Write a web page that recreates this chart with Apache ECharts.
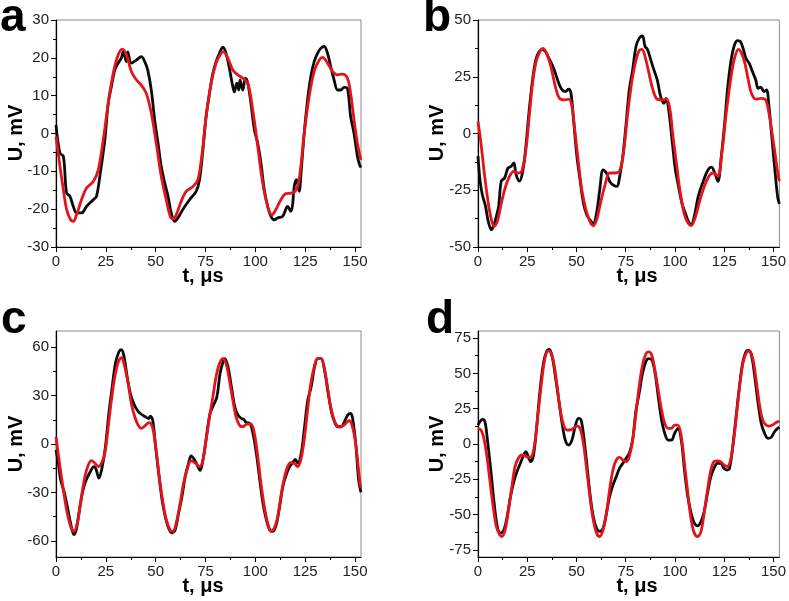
<!DOCTYPE html>
<html>
<head>
<meta charset="utf-8">
<script src="https://cdn.jsdelivr.net/npm/echarts@6/dist/echarts.min.js"></script>
<style>html,body{margin:0;padding:0;background:#fff}#c{width:789px;height:601px}</style>
</head>
<body>
<div id="c"></div>
<script>
// ---- data: [t (µs), U (mV)] ----
const aBlack = [[0,2.3],[2,-5.2],[3.7,-6],[5.3,-15.7],[7,-16.6],[8.7,-19.3],[10.3,-21],[12.8,-21],[15.3,-19.3],[18.7,-17.5],[20.3,-16.6],[22,-11.3],[24.5,-1.7],[26.2,8],[27.8,12.4],[29.5,16.8],[31.2,18.6],[32.8,20],[33.7,21.6],[35.3,19],[36,21.6],[37.8,18.6],[40.3,19.4],[42.8,20.3],[44.5,19],[46,16.8],[47.8,11.5],[49.5,3.6],[51.2,-2.6],[52.8,-8.7],[54.5,-13],[56.2,-16.6],[57.8,-21],[59.5,-23.2],[61.2,-22.3],[63.7,-20],[67,-17.5],[70.3,-15.3],[72,-12.2],[73.7,-4.3],[75.3,4.5],[77,10.6],[78.7,15.9],[80.3,19],[82,21.2],[83.7,22.8],[85.3,21.2],[87,17.2],[88.7,12.4],[89.5,11],[90.7,13.3],[91.7,11.5],[92.3,14.2],[93.7,11.5],[95,14.6],[96.2,13.3],[97.8,8],[99.5,1],[101.2,-2.6],[102.8,-7.8],[104.5,-14.9],[106.2,-19.3],[107.8,-21.9],[109.5,-22.8],[111.2,-22.3],[113.7,-21.9],[116.2,-19.3],[117.8,-20.6],[118.7,-18.8],[119.5,-14],[120.7,-12.2],[122,-15.3],[122.8,-11.3],[124.5,0],[126.2,8.9],[127.8,15],[129.5,19],[131.2,21.2],[132.8,22.5],[134.5,23],[136.2,21.2],[137.8,17.7],[139.5,14.2],[141.2,11.5],[142.8,11.5],[144.5,12.2],[146.2,11.9],[147.8,4.5],[149.5,0],[151.2,-6],[152.3,-8.3],[153,-9]];
const aRed = [[0,-0.8],[2,-8.7],[3.7,-14.9],[5.3,-20],[7.3,-22.8],[8.7,-23.2],[10.3,-21.5],[12.8,-17.5],[15.3,-14.4],[18.7,-12.7],[21.2,-9.6],[23.7,-1.7],[26.2,8],[28.7,15.9],[31.2,20.8],[33.3,22.3],[35.3,20.8],[37.8,16.4],[40.3,14.2],[42.8,12.8],[45.3,10.6],[47.8,5.4],[50.3,-2.6],[52.8,-11.3],[55.3,-17.5],[57.3,-21.9],[58.7,-22.6],[60.3,-21.5],[62.8,-17.9],[65.3,-15.3],[68.7,-14],[71.2,-12.2],[73.3,-5.2],[75.3,4.5],[77.8,13.3],[80.3,18.6],[82.8,21.2],[84,21.6],[86.2,19.9],[88.7,16.8],[91.2,15.5],[93.7,14.6],[96.2,13.3],[98.7,6.2],[101.2,-3.4],[103.7,-13.1],[106.2,-19.3],[108.3,-21.5],[110.3,-20.1],[112.8,-17.5],[115.3,-15.9],[118.7,-15.7],[121.2,-14],[122.8,-8.7],[124.5,0],[127,9.8],[129.5,16.4],[132,19.4],[133.7,20.1],[136.2,18.6],[138.7,16.4],[141.2,15.5],[143.7,15.7],[146.2,14.6],[147.8,10.6],[149.5,3.6],[151.2,-2.6],[152.5,-6],[153,-7]];
const bBlack = [[0,-10],[1,-20.4],[2.2,-27],[3.8,-32],[5.2,-38.7],[6.8,-42.4],[8.2,-40],[9.3,-36.5],[10.5,-32],[11.8,-21],[13.5,-19.6],[15.2,-15.2],[16.8,-14.5],[18.2,-13],[19.3,-18],[21,-21],[22.7,-16.7],[24.3,-5.7],[26,10.4],[27.7,23.6],[29.3,32.4],[31,36],[32.7,37.1],[34.3,36],[36,33.1],[37.7,30.2],[39.3,26.5],[41,22.1],[42.7,19.2],[44.3,18.5],[46,19.5],[47.2,17.7],[48.5,6],[50.2,-10.1],[51.8,-20.4],[53.5,-30.6],[55.2,-35.8],[56.8,-38],[58.5,-39.7],[60.2,-35],[61.8,-24.8],[63.5,-16],[65.2,-17.4],[66.8,-21.1],[68.5,-22.6],[70.5,-23.3],[71.8,-19.6],[73.5,-10.1],[75.2,4.5],[76.8,19.2],[78.5,28],[80.2,38.3],[81.8,41.9],[83.5,43],[84.8,38.3],[86,37.1],[87.7,32.4],[89.3,28],[91,23.6],[92.7,16.3],[94.3,13.3],[95.5,15.5],[96.8,10.4],[98.5,-2.8],[100.2,-16],[101.8,-23.3],[103.5,-30.6],[105.2,-35],[106.8,-38.7],[108.2,-40.2],[109.8,-36.5],[111.8,-27.7],[114.3,-21.1],[116.8,-16],[118.5,-14.8],[120.2,-17.4],[121.8,-21.1],[123.5,-10.1],[125.2,4.5],[126.8,20.7],[128.5,32.4],[130.2,39],[131.8,40.9],[133.2,40.5],[134.8,36.8],[136,33.1],[137.7,30.9],[139.3,27.3],[141,23.6],[142.2,19.9],[143.5,20.4],[145.2,18.5],[146.5,19.2],[147.7,11.9],[149.3,-2.8],[151,-18.9],[152.2,-28.4],[153,-31]];
const bRed = [[0,5.3],[1.5,-4.3],[3.2,-17.4],[5.2,-30.6],[6.8,-38],[8.2,-40.9],[9.8,-38.7],[11.5,-32.1],[13.5,-24.8],[16,-18.9],[18.2,-16.7],[20.2,-17.4],[22.2,-16.7],[24.3,-7.2],[26,7.5],[27.7,22.1],[29.3,30.9],[31,35.3],[33,37.5],[34.8,35.3],[36.8,30.2],[38.5,23.6],[40.2,17.7],[41.8,15.1],[43.8,14.8],[46,15.1],[47.7,11.9],[49.3,0.1],[51,-13],[52.7,-24.8],[54.8,-33.6],[56.8,-38.7],[58.5,-40.6],[60.2,-38],[62.2,-30.6],[64.3,-23.3],[66.8,-17.4],[69.3,-17.4],[71.8,-16.7],[73.8,-8.7],[76,8.9],[78.2,23.6],[80.2,32.4],[81.8,36.5],[83.2,37.1],[84.8,33.9],[86.8,26.5],[88.8,19.2],[91,15.1],[93.5,14.8],[95.5,15.1],[97.2,11.9],[98.8,0.1],[100.5,-11.6],[102.7,-26.2],[104.8,-35.8],[106.8,-39.7],[108.2,-40.6],[110.2,-37.2],[112.7,-29.2],[115.2,-22.6],[117.7,-18.2],[119.8,-17.4],[121.8,-18.9],[123.8,-8.7],[126,8.9],[128.2,23.6],[130.2,33.1],[132.2,37.1],[133.8,35.3],[135.5,30.9],[137.2,23.6],[138.8,17.7],[141,15.1],[143.5,15.5],[146,14.8],[147.7,8.9],[149.3,0.1],[151,-10.1],[152.3,-18.2],[153,-21]];
const cBlack = [[0,-3.7],[1.2,-12],[2.3,-22],[4,-29.4],[5.7,-38.7],[7.3,-49],[9,-56.2],[10.2,-53],[11.5,-42.8],[13.2,-30.5],[14.8,-23.3],[16.8,-18.1],[19,-14],[20.2,-16],[21.5,-21.2],[23.2,-14],[24.8,-1.6],[26.5,18.9],[28.2,35.4],[29.8,49.8],[31.5,57],[32.8,58.4],[34,54.9],[35.7,41.6],[37.3,31.3],[39,25.1],[40.7,21],[42.3,18.9],[44.8,16.9],[46.5,15.8],[47.3,17.3],[48.5,14.8],[49.8,0.4],[51.5,-18.1],[53.2,-34.6],[54.8,-44.9],[56.5,-52.1],[58.2,-55.1],[59.8,-53.1],[61.5,-42.8],[63.2,-32.5],[64.8,-20.2],[66.5,-11.9],[67.8,-7.4],[69.5,-9.9],[71.2,-14],[72.3,-16.5],[74,-7.8],[75.7,6.6],[77.3,18.9],[79,24.1],[80.7,29.2],[82.3,43.6],[84,51.9],[84.7,52.9],[86.3,47.7],[88,35.4],[89.7,23],[91.3,17.9],[93,15.8],[94.2,15.2],[95.5,13.2],[97.2,12.8],[98.8,6.6],[100.5,-5.8],[102.2,-22.2],[103.8,-36.6],[105.5,-46.9],[107.2,-53.1],[108.8,-54.1],[110.5,-50],[112.2,-38.7],[113.8,-26.3],[115.5,-19.1],[117.2,-14],[118.8,-11.5],[120,-9.5],[121.3,-11.9],[123,-5.8],[124.7,10.7],[126.3,27.2],[128,35.4],[129.7,47.7],[131.3,52.9],[133,52.9],[134.7,45.7],[136.3,33.3],[138,21],[139.7,13.8],[141.3,10.7],[143,10.7],[144.7,13.8],[146.3,17.9],[147.7,18.9],[148.8,15.8],[150.5,-1.6],[151.8,-22.2],[153,-30]];
const cRed = [[0,4.5],[2,-14],[3.7,-28.4],[5.3,-40.7],[7.3,-51],[9,-54.1],[10.7,-49],[12.3,-36.6],[14.5,-20.2],[16.2,-13],[17.8,-10.3],[19.5,-11.9],[21.2,-14],[22.8,-11.9],[24.5,-5.8],[26.2,10.7],[27.8,27.2],[29.5,41.6],[31.2,50.8],[32.8,53.5],[34.5,47.7],[36.2,37.4],[37.8,25.1],[39.5,16.9],[41.2,11.7],[42.8,9.7],[44.5,11.1],[46.7,13.2],[48.3,10.7],[50,-1.6],[52,-22.2],[53.7,-36.6],[55.3,-46.9],[57.3,-53.5],[58.7,-54.1],[60.3,-49],[62,-38.7],[64,-24.3],[66.2,-14],[67.8,-10.3],[70,-11.9],[72,-14],[73.7,-9.9],[75.3,2.5],[77,16.9],[78.7,29.2],[80.3,41.6],[82,49.8],[83.7,52.9],[85.3,49.8],[87,39.5],[88.7,27.2],[90.3,16.9],[92,11.7],[93.7,10.7],[95.7,12.3],[97.8,12.3],[99.5,6.6],[101.2,-7.8],[102.8,-24.3],[104.5,-38.7],[106.2,-49],[107.8,-54.1],[109.5,-52.1],[111.2,-44.9],[112.8,-32.5],[114.5,-21.2],[116.2,-14],[117.8,-11.5],[119.5,-11.9],[121.2,-14],[122.8,-9.9],[124.5,2.5],[126.2,21],[127.8,37.4],[129.5,47.7],[131.2,52.9],[132.8,52.9],[134.5,47.7],[136.2,35.4],[137.8,23],[139.5,14.8],[141.2,11.1],[142.8,10.7],[144.5,11.7],[146.2,13.8],[147.3,14.4],[148.7,10.7],[150.3,0.4],[152.5,-24.3],[153,-27]];
const dBlack = [[0,13.4],[1,15.8],[2.2,17.4],[3.5,15.8],[4.8,2.8],[6.5,-18.4],[8.2,-41.9],[9.8,-58.4],[11.5,-63.1],[13.2,-60.7],[14.8,-51.3],[16.5,-37.2],[18.2,-26.6],[19.8,-19.5],[21.5,-13.7],[23.2,-7.8],[24.3,-5.4],[25.5,-8.9],[26.8,-12.5],[28.2,-7.8],[29.8,12.2],[31.5,38.1],[33.2,57],[34.8,65.2],[36.2,66.9],[37.7,61.7],[39.3,47.6],[41,31.1],[42.7,14.6],[44.3,2.8],[46,-0.7],[47.7,2.8],[49.3,12.2],[51,18.1],[52.2,17.4],[53.5,7.5],[55.2,-13.7],[56.8,-34.8],[58.5,-51.3],[60.2,-59.6],[61.8,-61.9],[63.5,-59.6],[65.2,-49],[66.8,-37.2],[68.5,-29],[70.2,-23.1],[71.8,-17.2],[73.5,-13.7],[75.2,-10.1],[76.8,-6.6],[78.5,2.8],[80.2,24],[81.8,35.8],[83.5,49.9],[85.2,58.2],[86.5,60.5],[88.2,59.8],[89.8,51.1],[91.5,33.4],[93.2,17],[94.8,7.5],[96.5,2.8],[98.2,2.8],[99.8,7.5],[101.5,11.1],[103.2,2.8],[104.8,-18.4],[106.5,-37.2],[108.2,-49],[109.8,-56],[111.5,-57.9],[113.2,-54.9],[114.8,-47.8],[116.5,-34.8],[118.2,-23.1],[119.8,-17.2],[121.5,-13.7],[123.2,-13.7],[124.8,-17.2],[126.5,-18.4],[127.7,-17.2],[129.3,-1.9],[131,19.3],[132.7,40.5],[134.3,57],[136,65.2],[137.2,66.4],[138.8,62.9],[140.5,47.6],[142.2,28.7],[143.8,14.6],[145.5,7.5],[147.2,4],[148.8,4.7],[150.5,8.7],[152.2,11.1],[153,12]];
const dRed = [[0,11.1],[1.5,9.9],[2.8,5.2],[4.3,-6.6],[6,-25.4],[7.7,-44.3],[9.3,-58.4],[11,-64.3],[12.2,-65.5],[13.8,-60.7],[15.5,-46.6],[17.2,-30.1],[18.8,-16],[20.5,-10.1],[22.2,-7.8],[23.8,-8.5],[25.5,-9.4],[27.2,-8.9],[28.8,0.5],[30.5,21.7],[32.2,42.9],[33.8,59.3],[35.5,65.9],[36.8,65.2],[38.5,57],[40.2,40.5],[41.8,24],[43.5,13.4],[45.2,9.9],[46.8,9.9],[48.5,11.1],[50.2,12.7],[51.8,11.1],[53.5,0.5],[55.2,-18.4],[56.8,-37.2],[58.5,-53.7],[60.2,-63.1],[61.8,-65.5],[63.5,-60.7],[65.2,-49],[66.8,-32.5],[68.5,-18.4],[70.2,-11.3],[71.8,-9.4],[73.5,-11.3],[75.2,-12.5],[76.8,-8.9],[78.5,2.8],[80.2,21.7],[81.8,40.5],[83.5,55.8],[85.2,63.6],[86.5,65.2],[88.2,62.9],[89.8,52.3],[91.5,38.1],[93.2,24],[94.8,14.6],[96.5,11.1],[98.2,11.1],[99.8,13.4],[101.5,13.4],[103.2,5.2],[104.8,-13.7],[106.5,-34.8],[108.2,-53.7],[109.8,-63.1],[111.5,-65.5],[113.2,-61.9],[114.8,-49],[116.5,-32.5],[118.2,-18.4],[119.8,-12.5],[121.5,-12],[123.2,-12.5],[124.8,-14.8],[126.5,-16],[128.2,-11.3],[129.8,2.8],[131.5,24],[133.2,45.2],[134.8,59.3],[136.5,65.2],[137.8,65.9],[139.5,60.5],[141.2,45.2],[142.8,28.7],[144.5,17],[146.2,13.4],[147.8,12.7],[149.5,13.4],[151.2,15.1],[152.3,15.8],[153,16]];

// ---- axis ticks ----
const xMajor = [0,25,50,75,100,125,150];
const xMinor = [12.5,37.5,62.5,87.5,112.5,137.5];
const aYMajor = [-30,-20,-10,0,10,20,30];
const aYMinor = [-25,-15,-5,5,15,25];
const bYMajor = [-50,-25,0,25,50];
const bYMinor = [-37.5,-12.5,12.5,37.5];
const cYMajor = [-60,-30,0,30,60];
const cYMinor = [-45,-15,15,45];
const dYMajor = [-75,-50,-25,0,25,50,75];
const dYMinor = [-62.5,-37.5,-12.5,12.5,37.5,62.5];
const panelLetters = ['a','b','c','d'];

const panels = [
  {grid:{left:56, top:20, width:305, height:227}, yMin:-30, yMax:30, yMajor:aYMajor, yMinor:aYMinor, black:aBlack, red:aRed, letter:[0,30], yName:[16,133], xName:[203,286]},
  {grid:{left:478, top:20, width:305, height:227}, yMin:-50, yMax:50, yMajor:bYMajor, yMinor:bYMinor, black:bBlack, red:bRed, letter:[423,30], yName:[437,133], xName:[637,286]},
  {grid:{left:56, top:331, width:305, height:226}, yMin:-70, yMax:70, yMajor:cYMajor, yMinor:cYMinor, black:cBlack, red:cRed, letter:[1,332], yName:[16,444], xName:[203,596]},
  {grid:{left:478, top:331, width:305, height:226}, yMin:-80, yMax:80, yMajor:dYMajor, yMinor:dYMinor, black:dBlack, red:dRed, letter:[426,332], yName:[437,444], xName:[637,596]}
];

const FONT = 'Liberation Sans, Arial, sans-serif';
const grid = [], xAxis = [], yAxis = [], series = [], graphic = [];
panels.forEach((p, i) => {
  grid.push(Object.assign({show:true, borderColor:'#8a8a8a', borderWidth:1, backgroundColor:'transparent'}, p.grid));
  const lbl = {color:'#222', fontSize:15, fontFamily:FONT};
  xAxis.push({type:'value', gridIndex:i, min:0, max:153, position:'bottom',
    axisLine:{show:true, onZero:false, lineStyle:{color:'#000', width:1.2}},
    axisTick:{show:true, length:5, customValues:xMajor, lineStyle:{color:'#000'}},
    axisLabel:Object.assign({customValues:xMajor, margin:7}, lbl),
    splitLine:{show:false}});
  xAxis.push({type:'value', gridIndex:i, min:0, max:153, position:'bottom', offset:0,
    axisLine:{show:false, onZero:false},
    axisTick:{show:true, length:3, customValues:xMinor, lineStyle:{color:'#000'}},
    axisLabel:{show:false}, splitLine:{show:false}});
  yAxis.push({type:'value', gridIndex:i, min:p.yMin, max:p.yMax, position:'left',
    axisLine:{show:true, onZero:false, lineStyle:{color:'#000', width:1.2}},
    axisTick:{show:true, length:5, customValues:p.yMajor, lineStyle:{color:'#000'}},
    axisLabel:Object.assign({customValues:p.yMajor, margin:7}, lbl),
    splitLine:{show:false}});
  yAxis.push({type:'value', gridIndex:i, min:p.yMin, max:p.yMax, position:'left', offset:0,
    axisLine:{show:false, onZero:false},
    axisTick:{show:true, length:3, customValues:p.yMinor, lineStyle:{color:'#000'}},
    axisLabel:{show:false}, splitLine:{show:false}});
  series.push({type:'line', xAxisIndex:2*i, yAxisIndex:2*i, data:p.black, showSymbol:false, smooth:0.35,
    lineStyle:{color:'#0b0b0b', width:2.8}, z:2, animation:false});
  series.push({type:'line', xAxisIndex:2*i, yAxisIndex:2*i, data:p.red, showSymbol:false, smooth:0.35,
    lineStyle:{color:'#e3141b', width:2.8}, z:3, animation:false});
  graphic.push({type:'text', left:p.letter[0], top:p.letter[1]-35, style:{text:panelLetters[i], font:'bold 46px ' + FONT, fill:'#000'}});
  graphic.push({type:'text', x:p.yName[0], y:p.yName[1], rotation:Math.PI/2,
    style:{text:'U, mV', font:'bold 20px ' + FONT, fill:'#000', textAlign:'center', textVerticalAlign:'middle'}});
  graphic.push({type:'text', x:p.xName[0], y:p.xName[1],
    style:{text:'t, μs', font:'bold 20px ' + FONT, fill:'#000', textAlign:'center', textVerticalAlign:'bottom'}});
});

const chart = echarts.init(document.getElementById('c'), null, {renderer:'canvas'});
chart.setOption({backgroundColor:'#fff', animation:false, grid, xAxis, yAxis, series, graphic});
</script>
</body>
</html>
